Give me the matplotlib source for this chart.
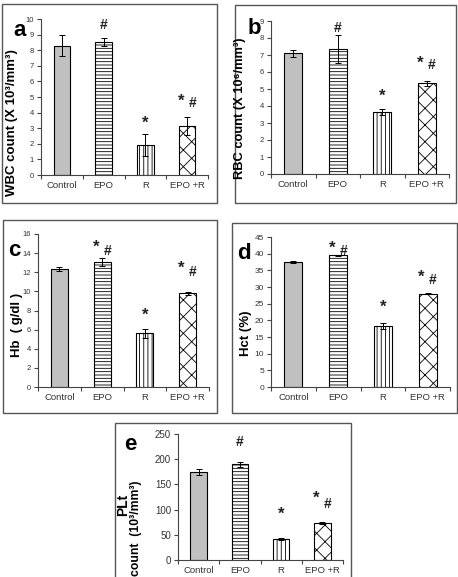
import matplotlib
matplotlib.use("Agg")
import matplotlib.pyplot as plt
from matplotlib.patches import Rectangle
import numpy as np

plt.rcParams['font.family'] = ['Liberation Sans', 'DejaVu Sans']
plt.rcParams['hatch.linewidth'] = 0.6

categories = ["Control", "EPO", "R", "EPO +R"]

wbc = [8.3, 8.55, 1.95, 3.15]
wbc_err = [0.65, 0.25, 0.7, 0.6]
rbc = [7.1, 7.35, 3.65, 5.35]
rbc_err = [0.2, 0.8, 0.15, 0.15]
hb = [12.3, 13.05, 5.6, 9.8]
hb_err = [0.2, 0.4, 0.5, 0.15]
hct = [37.5, 39.5, 18.3, 28.0]
hct_err = [0.2, 0.2, 1.0, 0.1]
plt_vals = [175, 190, 42, 73]
plt_err = [6, 5, 2, 2]

W, H = 458, 577
fig = plt.figure(figsize=(W / 100, H / 100), dpi=100)
fig.patch.set_facecolor('white')


def fx(x):
    return x / W


def fy(y):
    return 1 - y / H


def add_box(x0, y0, x1, y1):
    fig.patches.append(Rectangle((fx(x0), fy(y1)), fx(x1 - x0), (y1 - y0) / H,
                                 transform=fig.transFigure, fill=False,
                                 edgecolor='#555555', linewidth=1.0, zorder=0))


def make_axes(x0, x1, ytop, ybot):
    return fig.add_axes([fx(x0), fy(ybot), fx(x1 - x0), (ybot - ytop) / H])


faces = ['#C0C0C0', 'white', 'white', 'white']
hatches = [None, '-----', '||||', 'xx']


def panel(ax, vals, errs, ymax, ystep, ytick_size, marks):
    xs = np.arange(len(categories)) + 0.5
    for i, (x, v, e) in enumerate(zip(xs, vals, errs)):
        ax.bar(x, v, width=0.4, color=faces[i], edgecolor='black',
               linewidth=0.8, hatch=hatches[i], zorder=2)
        ax.errorbar(x, v, yerr=e, color='black', capsize=2.5,
                    elinewidth=0.7, capthick=0.7, zorder=3)
    ax.set_xlim(0, 4)
    ax.set_ylim(0, ymax)
    ax.set_yticks(np.arange(0, ymax + ystep / 2, ystep))
    ax.set_xticks(xs)
    ax.set_xticklabels(categories)
    ax.set_xticks(np.arange(0, 5), minor=True)
    ax.tick_params(axis='x', which='major', length=0, labelsize=6.8,
                   labelcolor='#333333', pad=4)
    ax.tick_params(axis='x', which='minor', length=3, width=0.8,
                   color='#444444', direction='out')
    ax.tick_params(axis='y', length=3, width=0.8, color='#444444',
                   labelsize=ytick_size, labelcolor='#333333', pad=2)
    for s in ['top', 'right']:
        ax.spines[s].set_visible(False)
    for s in ['left', 'bottom']:
        ax.spines[s].set_color('#444444')
        ax.spines[s].set_linewidth(0.8)
    ax.patch.set_alpha(0)
    for (i, dx, y, sym) in marks:
        ax.text(xs[i] + dx, y, sym, ha='center', va='center',
                fontsize=10 if sym == '#' else 12, fontweight='bold',
                color='#222222')


# boxes
add_box(2, 4, 217, 203)
add_box(235, 5, 456, 203)
add_box(3, 220, 217, 413)
add_box(232, 223, 457, 413)
add_box(115, 423, 351, 600)

# panel a
ax_a = make_axes(41, 208, 19, 175)
panel(ax_a, wbc, wbc_err, 10, 1, 5.5,
      [(1, 0, 9.6, '#'), (2, 0, 3.3, '*'), (3, -0.14, 4.7, '*'), (3, 0.12, 4.6, '#')])
# panel b
ax_b = make_axes(271, 449, 21, 174)
panel(ax_b, rbc, rbc_err, 9, 1, 5.5,
      [(1, 0, 8.6, '#'), (2, 0, 4.6, '*'), (3, -0.14, 6.5, '*'), (3, 0.12, 6.4, '#')])
# panel c
ax_c = make_axes(38, 209, 234, 387)
panel(ax_c, hb, hb_err, 16, 2, 5.5,
      [(1, -0.14, 14.6, '*'), (1, 0.12, 14.2, '#'), (2, 0, 7.5, '*'),
       (3, -0.14, 12.4, '*'), (3, 0.12, 12.0, '#')])
# panel d
ax_d = make_axes(271, 450, 237, 387)
panel(ax_d, hct, hct_err, 45, 5, 6,
      [(1, -0.14, 41.5, '*'), (1, 0.12, 40.8, '#'), (2, 0, 24.0, '*'),
       (3, -0.14, 33.0, '*'), (3, 0.12, 32.0, '#')])
# panel e
ax_e = make_axes(178, 343, 434, 560)
panel(ax_e, plt_vals, plt_err, 250, 50, 7,
      [(1, 0, 235, '#'), (2, 0, 90, '*'), (3, -0.14, 122, '*'), (3, 0.12, 112, '#')])

# y labels
fig.text(fx(12), fy(123), "WBC count (X 10³/mm³)", rotation=90, ha='center',
         va='center', fontsize=9.5, fontweight='bold')
fig.text(fx(240), fy(108), "RBC count (X 10⁶/mm³)", rotation=90, ha='center',
         va='center', fontsize=9.3, fontweight='bold')
fig.text(fx(17), fy(325), "Hb  ( g/dl )", rotation=90, ha='center',
         va='center', fontsize=9.5, fontweight='bold')
fig.text(fx(246), fy(333), "Hct (%)", rotation=90, ha='center',
         va='center', fontsize=9.5, fontweight='bold')
fig.text(fx(123), fy(505), "PLt", rotation=90, ha='center',
         va='center', fontsize=10, fontweight='bold')
fig.text(fx(136), fy(480), "count  (10³/mm³)", rotation=90, ha='center',
         va='top', fontsize=8.8, fontweight='bold')

# panel letters
for (x, y, s) in [(20, 30, 'a'), (254, 29, 'b'), (14, 250, 'c'), (244, 253, 'd'), (130, 444, 'e')]:
    fig.text(fx(x), fy(y), s, ha='center', va='center', fontsize=16,
             fontweight='bold')

fig.savefig("out.png", dpi=100, facecolor='white')
